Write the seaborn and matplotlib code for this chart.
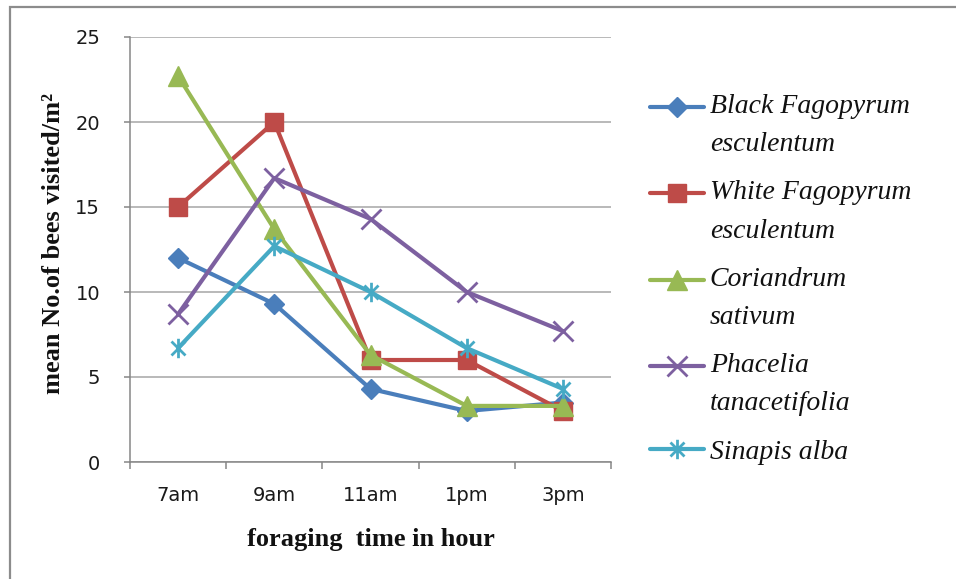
import numpy as np
import pandas as pd
import matplotlib
matplotlib.use("Agg")
import matplotlib.pyplot as plt
import seaborn as sns
from matplotlib.path import Path
from matplotlib.ticker import FixedLocator, NullFormatter
from matplotlib.patches import Rectangle

# ---- data ----
times = ['7am', '9am', '11am', '1pm', '3pm']
black_fagopyrum = [12.0, 9.3, 4.3, 3.0, 3.5]
white_fagopyrum = [15.0, 20.0, 6.0, 6.0, 3.0]
coriandrum = [22.7, 13.7, 6.3, 3.3, 3.3]
phacelia = [8.7, 16.7, 14.3, 10.0, 7.7]
sinapis = [6.7, 12.7, 10.0, 6.7, 4.3]
series_labels = ['Black Fagopyrum\nesculentum', 'White Fagopyrum\nesculentum',
                 'Coriandrum\nsativum', 'Phacelia\ntanacetifolia', 'Sinapis alba']
y_ticks = [0, 5, 10, 15, 20, 25]
x_label = 'foraging  time in hour'
y_label = 'mean No.of bees visited/m\u00b2'

series_values = [black_fagopyrum, white_fagopyrum, coriandrum, phacelia, sinapis]
df = pd.DataFrame({
    'time': times * len(series_labels),
    'species': [s for s in series_labels for _ in times],
    'value': [v for vals in series_values for v in vals],
})

# ---- styles ----
colors = ['#4A7EBB', '#BE4B48', '#98B954', '#7D60A0', '#46AAC5']
asterisk = Path([(0, -1), (0, 1), (-0.72, -0.72), (0.72, 0.72), (-0.72, 0.72), (0.72, -0.72)],
                [Path.MOVETO, Path.LINETO, Path.MOVETO, Path.LINETO, Path.MOVETO, Path.LINETO])
markers = ['D', 's', '^', 'x', asterisk]
msizes = [10.5, 13.5, 15, 14, 14]
filled = [True, True, True, False, False]

sns.set_theme(style='white')
plt.rcParams['font.family'] = ['DejaVu Sans']

fig = plt.figure(figsize=(9.56, 5.79), dpi=100)
ax = fig.add_axes([130 / 956, 1 - 462 / 579, 481 / 956, 425 / 579])

for lab, col, mk, ms, fl in zip(series_labels, colors, markers, msizes, filled):
    sub = df[df['species'] == lab]
    sns.lineplot(data=sub, x='time', y='value', ax=ax, color=col, marker=mk,
                 linewidth=3, markersize=ms, errorbar=None, sort=False, legend=False)
    line = ax.lines[-1]
    line.set_label(lab)
    line.set_markeredgecolor(col)
    if fl:
        line.set_markerfacecolor(col)
        line.set_markeredgewidth(1)
    else:
        line.set_markerfacecolor('none')
        line.set_markeredgewidth(2)

grid_c = '#A6A6A6'
ax.set_ylim(0, 25)
ax.set_xlim(-0.5, 4.5)
ax.set_yticks(y_ticks)
ax.set_yticklabels([str(t) for t in y_ticks])
ax.set_xticks(range(len(times)))
ax.set_xticklabels(times)
ax.xaxis.set_minor_locator(FixedLocator(np.arange(-0.5, 4.6, 1.0)))
ax.xaxis.set_minor_formatter(NullFormatter())
ax.yaxis.grid(True, color=grid_c, linewidth=1.1)
ax.xaxis.grid(False)
ax.set_axisbelow(True)
for side in ['top', 'right']:
    ax.spines[side].set_visible(False)
for side in ['left', 'bottom']:
    ax.spines[side].set_color('#868686')
    ax.spines[side].set_linewidth(1.1)
ax.tick_params(axis='y', which='major', left=True, length=4.5, width=1.1, color='#868686',
               pad=17, labelsize=14, labelcolor='#1a1a1a')
ax.tick_params(axis='x', which='major', bottom=True, length=0, pad=17, labelsize=14,
               labelcolor='#1a1a1a')
ax.tick_params(axis='x', which='minor', bottom=True, length=5, width=1.1, color='#868686')

ax.set_xlabel(x_label, fontfamily='Liberation Serif', fontweight='bold', fontsize=19,
              color='#111111')
ax.set_ylabel(y_label, fontfamily='Liberation Serif', fontweight='bold', fontsize=19,
              color='#111111')
ax.xaxis.set_label_coords(0.5, -0.155)
ax.yaxis.set_label_coords(-0.135, 0.515)

# legend
leg_fs = 20
linesp = 1.70
pitch_pt = 37 / (100 / 72)
leg = ax.legend(handles=ax.lines[:5], labels=series_labels, loc='upper left',
                bbox_to_anchor=(650 / 956, 1 - 94 / 579), bbox_transform=fig.transFigure,
                frameon=False, borderpad=0, borderaxespad=0, handlelength=1.95,
                handletextpad=0.2, labelspacing=0.83,
                prop={'family': 'Liberation Serif', 'style': 'italic', 'size': leg_fs})
for t in leg.get_texts():
    t.set_linespacing(linesp)
    t.set_color('#111111')
for h, lab in zip(leg.legend_handles, series_labels):
    if '\n' in lab:
        h.set_ydata(np.asarray(h.get_ydata()) + 0.5 * pitch_pt)

# outer border
fig.add_artist(Rectangle((10 / 956, -0.1), 1.2, 1.1 - 7 / 579, transform=fig.transFigure,
                         fill=False, edgecolor='#8C8C8C', linewidth=1.6, clip_on=False))

fig.savefig('out.png', dpi=100)
